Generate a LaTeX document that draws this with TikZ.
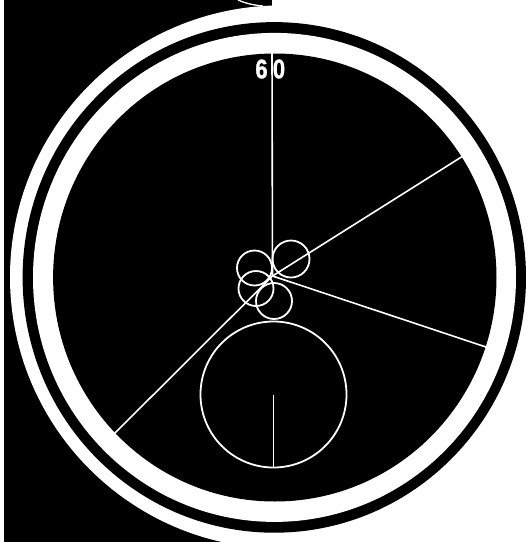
\documentclass[tikz,border=0pt]{standalone}
\usepackage{fontspec}
\setsansfont{Liberation Sans}[BoldFeatures={FakeBold=1.2}]
\newcommand{\slimdigit}[1]{\scalebox{0.82}[1]{#1}}
\tikzset{
  wire/.style={draw=white,line width=1.6pt},
  roller/.style={circle,draw=white,line width=1.8pt,inner sep=0pt},
  digit/.style={text=white,font=\sffamily\bfseries\fontsize{27}{27}\selectfont},
}
\begin{document}
\begin{tikzpicture}[x=1pt,y=-1pt]
\useasboundingbox (0,0) rectangle (528,542);
% backing
\fill[black] (4,0) rectangle (272,542);
\fill[white] (281.6,277) circle [radius=271.6];
\draw[white,line width=1.3pt] (238,0) .. controls (245,3) and (252,5) .. (263,6);
% rings
\fill[black] (274.3,277.4) ellipse [x radius=251.7,y radius=255.3];
\fill[white] (274.5,277.4) ellipse [x radius=241.5,y radius=244.5];
\fill[black] (274.8,277.5) ellipse [x radius=221.7,y radius=224];
% spokes
\coordinate (hub) at (272.5,276);
\coordinate (top) at (272,53);
\coordinate (upright) at (463,156);
\coordinate (lowright) at (486,347);
\coordinate (lowleft) at (114,434);
\draw[wire] (hub) -- (top);
\draw[wire] (hub) -- (upright);
\draw[wire] (hub) -- (lowright);
\draw[wire] (hub) -- (lowleft);
% small rollers
\node[roller,minimum size=37pt] (rolla) at (291,259) {};
\node[roller,minimum size=35pt] (rollb) at (254.5,268) {};
\node[roller,minimum size=35pt] (rollc) at (256,288.5) {};
\node[roller,minimum size=36pt] (rolld) at (274,301) {};
% big wheel
\node[roller,minimum size=146pt] (wheel) at (273.5,394.5) {};
\draw[wire] (wheel.center) -- (wheel.south);
% label
\node[digit] (six) at (261.5,69) {\slimdigit{6}};
\node[digit] (zero) at (279,69) {\slimdigit{0}};
\end{tikzpicture}
\end{document}
